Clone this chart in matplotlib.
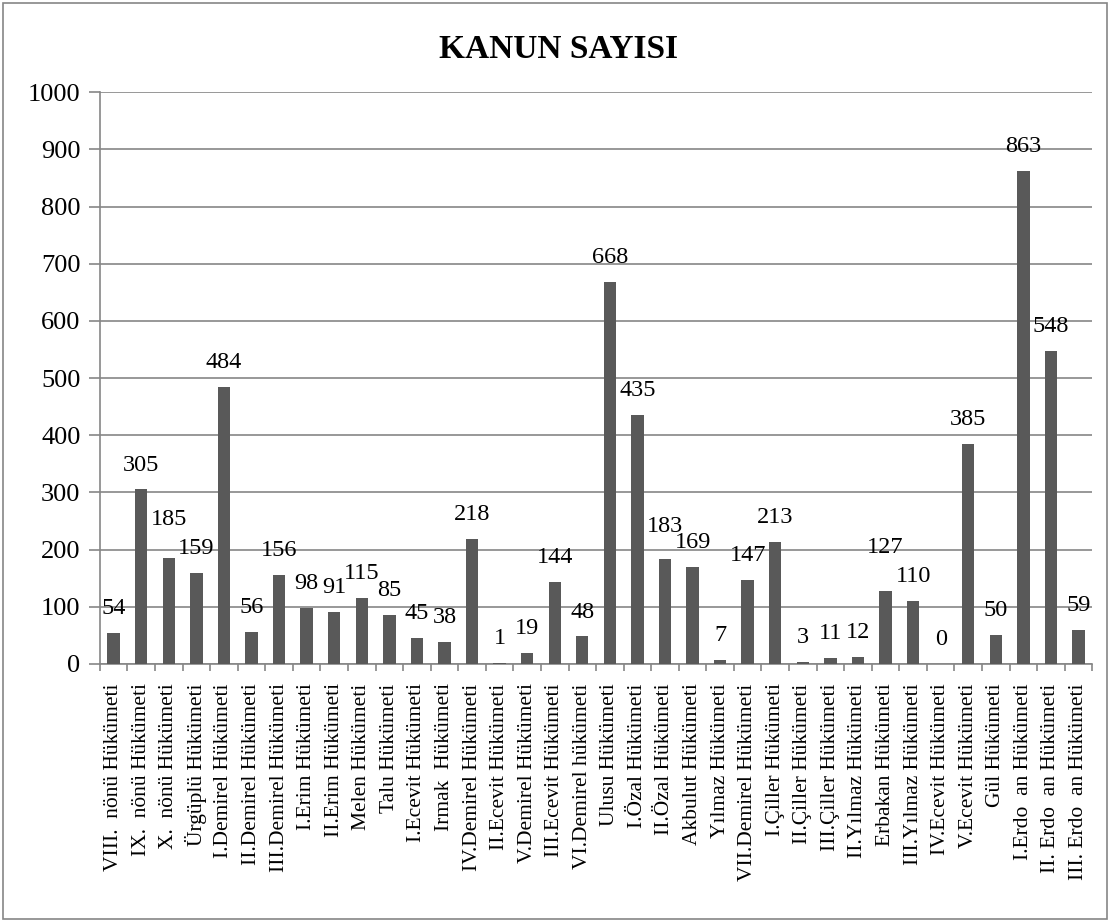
import matplotlib
matplotlib.use('Agg')
import matplotlib.pyplot as plt
from matplotlib.patches import Rectangle

# data
hukumetler = ['VIII.  nönü Hükümeti', 'IX.  nönü Hükümeti', 'X.  nönü Hükümeti', 'Ürgüplü Hükümeti',
              'I.Demirel Hükümeti', 'II.Demirel Hükümeti', 'III.Demirel Hükümeti', 'I.Erim Hükümeti',
              'II.Erim Hükümeti', 'Melen Hükümeti', 'Talu Hükümeti', 'I.Ecevit Hükümeti',
              'Irmak  Hükümeti', 'IV.Demirel Hükümeti', 'II.Ecevit Hükümeti', 'V.Demirel Hükümeti',
              'III.Ecevit Hükümeti', 'VI.Demirel hükümeti', 'Ulusu Hükümeti', 'I.Özal Hükümeti',
              'II.Özal Hükümeti', 'Akbulut Hükümeti', 'Yılmaz Hükümeti', 'VII.Demirel Hükümeti',
              'I.Çiller Hükümeti', 'II.Çiller Hükümeti', 'III.Çiller Hükümeti', 'II.Yılmaz Hükümeti',
              'Erbakan Hükümeti', 'III.Yılmaz Hükümeti', 'IV.Ecevit Hükümeti', 'V.Ecevit Hükümeti',
              'Gül Hükümeti', 'I.Erdo  an Hükümeti', 'II. Erdo  an Hükümeti', 'III. Erdo  an Hükümeti']
kanun_sayisi = [54, 305, 185, 159, 484, 56, 156, 98, 91, 115, 85, 45, 38, 218, 1, 19, 144, 48,
                668, 435, 183, 169, 7, 147, 213, 3, 11, 12, 127, 110, 0, 385, 50, 863, 548, 59]
y_ticks = list(range(0, 1001, 100))

# extra lift (points) for labels the way excel pushed them apart
label_lift = {2: 10, 20: 6, 28: 14}

plt.rcParams['font.family'] = ['Liberation Serif', 'DejaVu Serif']

fig = plt.figure(figsize=(11.1, 9.22), dpi=100)
ax = fig.add_axes([0.090, 0.280, 0.894, 0.620])

x = list(range(len(kanun_sayisi)))
bars = ax.bar(x, kanun_sayisi, width=0.45, color='#595959', zorder=3)
for xi, v in zip(x, kanun_sayisi):
    ax.annotate(str(v), (xi, v), xytext=(0, 10 + label_lift.get(xi, 0)),
                textcoords='offset points', ha='center', va='bottom', fontsize=17.5)

ax.set_ylim(0, 1000)
ax.set_xlim(-0.5, len(kanun_sayisi) - 0.5)
ax.set_yticks(y_ticks)
ax.set_yticklabels([str(t) for t in y_ticks], fontsize=19)
ax.set_xticks(x)
ax.set_xticklabels(hukumetler, rotation=90, fontsize=15.5)
ax.set_xticks([i - 0.5 for i in range(len(x) + 1)], minor=True)
ax.tick_params(axis='x', which='major', length=0, pad=14)
ax.tick_params(axis='x', which='minor', length=5, color='#868686', width=1.2)
ax.tick_params(axis='y', length=8, color='#868686', width=1.2, pad=6)
ax.yaxis.grid(True, color='#868686', linewidth=1.2, zorder=0)
for s in ['top', 'right']:
    ax.spines[s].set_visible(False)
ax.spines['left'].set_color('#868686')
ax.spines['bottom'].set_color('#868686')
ax.spines['left'].set_linewidth(1.2)
ax.spines['bottom'].set_linewidth(1.2)

fig.text(0.503, 0.946, 'KANUN SAYISI', ha='center', va='center', fontsize=24, fontweight='bold')

# outer border
fig.patches.append(Rectangle((0.003, 0.003), 0.994, 0.994, transform=fig.transFigure,
                             fill=False, edgecolor='#868686', linewidth=1.2))

fig.savefig('out.png', dpi=100)
